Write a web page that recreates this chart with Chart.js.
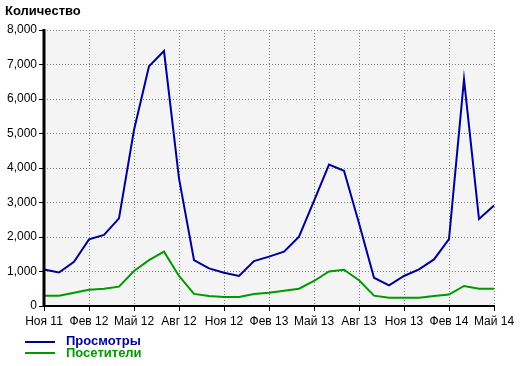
<!DOCTYPE html>
<html><head><meta charset="utf-8">
<script src="https://cdn.jsdelivr.net/npm/chart.js@4/dist/chart.umd.min.js"></script>
<style>
html,body{margin:0;padding:0;background:#fff;}
#wrap{position:relative;width:520px;height:366px;}
#title{position:absolute;left:5px;top:3px;font:bold 13px "Liberation Sans",Arial,sans-serif;color:#000;}
.leg{position:absolute;left:25px;font:bold 13px "Liberation Sans",Arial,sans-serif;}
.leg span.ln{position:absolute;left:0;width:30px;height:2px;}
.leg span.tx{position:absolute;left:41px;white-space:nowrap;}
</style></head>
<body>
<div id="wrap">
<canvas id="c" width="520" height="366"></canvas>
<div id="title">Количество</div>
<div class="leg" id="leg1" style="top:333px;"><span class="ln" style="top:8px;background:#000099"></span><span class="tx" style="top:0;color:#000099">Просмотры</span></div>
<div class="leg" id="leg2" style="top:345px;"><span class="ln" style="top:7px;background:#009900"></span><span class="tx" style="top:0;color:#009900">Посетители</span></div>
</div>
<script>
const months = ['Ноя 11','Дек 11','Янв 12','Фев 12','Мар 12','Апр 12','Май 12','Июн 12','Июл 12','Авг 12','Сен 12','Окт 12',
  'Ноя 12','Дек 12','Янв 13','Фев 13','Мар 13','Апр 13','Май 13','Июн 13','Июл 13','Авг 13','Сен 13','Окт 13',
  'Ноя 13','Дек 13','Янв 14','Фев 14','Мар 14','Апр 14','Май 14'];
const views = [1060, 970, 1280, 1930, 2060, 2540, 5100, 6950, 7390, 3700, 1330, 1090,
  965, 870, 1300, 1430, 1575, 2010, 3050, 4100, 3920, 2400, 820, 600,
  870, 1060, 1350, 1940, 6570, 2520, 2910];
const visitors = [300, 300, 385, 470, 500, 560, 1015, 1330, 1575, 870, 350, 290,
  260, 260, 350, 385, 445, 500, 725, 1000, 1050, 745, 300, 240,
  240, 240, 290, 330, 580, 500, 500];
const seriesNames = ['Просмотры','Посетители'];
const yTicks = [0,1000,2000,3000,4000,5000,6000,7000,8000];

const bgPlugin = {
  id:'bg',
  beforeDraw(chart){
    const a = chart.chartArea, ctx = chart.ctx;
    ctx.save(); ctx.fillStyle = '#f4f4f4';
    ctx.fillRect(a.left, a.top, a.right-a.left, a.bottom-a.top);
    ctx.restore();
  },
  afterDraw(chart){
    const a = chart.chartArea, ctx = chart.ctx;
    ctx.save(); ctx.strokeStyle = '#000';
    ctx.lineWidth = 3;
    ctx.beginPath(); ctx.moveTo(a.left, a.top-1); ctx.lineTo(a.left, a.bottom+1); ctx.stroke();
    ctx.lineWidth = 2;
    ctx.beginPath(); ctx.moveTo(a.left-1, a.bottom); ctx.lineTo(a.right+1, a.bottom); ctx.stroke();
    ctx.restore();
  }
};

const font = {family:'"Liberation Sans", Arial, sans-serif', size:12};
new Chart(document.getElementById('c'), {
  type:'line',
  data:{
    labels: months,
    datasets:[
      {label:seriesNames[0], data:views, borderColor:'#000099', borderWidth:2, pointRadius:0, tension:0, fill:false},
      {label:seriesNames[1], data:visitors, borderColor:'#009900', borderWidth:2, pointRadius:0, tension:0, fill:false}
    ]
  },
  options:{
    responsive:false, animation:false,
    layout:{padding:{top:30, right:26, bottom:0, left:0}},
    plugins:{legend:{display:false}, tooltip:{enabled:false}, title:{display:false}},
    scales:{
      x:{
        offset:false,
        afterFit(s){ s.height = 60; },
        ticks:{autoSkip:false, maxRotation:0, color:'#000', font, padding:3,
          callback(v,i){ return i%3===0 ? months[i] : ''; }},
        grid:{color:c=> (c.index%3===0 ? '#808080' : 'rgba(0,0,0,0)'), lineWidth:1, tickLength:5,
          tickColor:c=> (c.index%3===0 ? '#000' : 'rgba(0,0,0,0)'), tickWidth:1},
        border:{display:false, dash:[1,2]}
      },
      y:{
        min:0, max:8000,
        afterFit(s){ s.width = 44; },
        afterBuildTicks(s){ s.ticks = yTicks.map(v=>({value:v})); },
        ticks:{color:'#000', font, padding:2, callback:v=> v.toLocaleString('en-US')},
        grid:{color:'#808080', lineWidth:1, tickLength:5, tickColor:'#000', tickWidth:1},
        border:{display:false, dash:[1,2]}
      }
    }
  },
  plugins:[bgPlugin]
});
</script>
</body></html>
